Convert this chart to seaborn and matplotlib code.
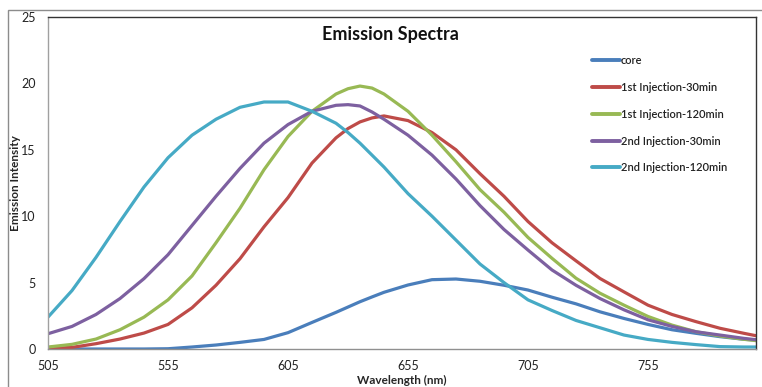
import numpy as np
import pandas as pd
import matplotlib
matplotlib.use("Agg")
import matplotlib.pyplot as plt
from matplotlib.patches import Rectangle
import seaborn as sns

# Emission wavelength (nm)
wavelength = [505, 515, 525, 535, 545, 555, 565, 575, 585, 595, 605, 615, 625, 630,
              635, 640, 645, 655, 665, 675, 685, 695, 705, 715, 725, 735, 745, 755,
              765, 775, 785, 795, 800]

core = [0.0, 0.0, 0.0, 0.0, 0.0, 0.02, 0.15, 0.3, 0.5, 0.72, 1.23, 2.0, 2.76, 3.16,
        3.56, 3.92, 4.27, 4.82, 5.22, 5.27, 5.1, 4.8, 4.44, 3.9, 3.4, 2.8, 2.3, 1.85,
        1.45, 1.18, 0.93, 0.73, 0.68]

inj1_30 = [0.05, 0.12, 0.4, 0.75, 1.2, 1.85, 3.1, 4.8, 6.8, 9.2, 11.4, 14.0, 15.9, 16.6,
           17.1, 17.4, 17.55, 17.2, 16.3, 15.0, 13.2, 11.5, 9.6, 8.0, 6.64, 5.31, 4.3, 3.3,
           2.6, 2.06, 1.56, 1.18, 1.0]

inj1_120 = [0.15, 0.35, 0.75, 1.45, 2.4, 3.7, 5.5, 8.0, 10.6, 13.5, 16.0, 17.9, 19.2, 19.6,
            19.8, 19.65, 19.2, 17.9, 16.1, 14.1, 12.0, 10.3, 8.4, 6.83, 5.33, 4.2, 3.3, 2.45,
            1.8, 1.3, 0.98, 0.73, 0.63]

inj2_30 = [1.15, 1.7, 2.6, 3.8, 5.3, 7.1, 9.3, 11.5, 13.6, 15.5, 16.9, 17.9, 18.35, 18.4,
           18.3, 17.85, 17.3, 16.1, 14.6, 12.8, 10.8, 9.0, 7.45, 5.95, 4.8, 3.8, 2.95, 2.2,
           1.7, 1.3, 1.05, 0.8, 0.7]

inj2_120 = [2.4, 4.4, 6.9, 9.6, 12.2, 14.4, 16.1, 17.3, 18.2, 18.6, 18.6, 17.9, 17.0, 16.3,
            15.5, 14.6, 13.7, 11.7, 10.0, 8.2, 6.4, 5.0, 3.7, 2.9, 2.15, 1.6, 1.05, 0.72,
            0.5, 0.33, 0.18, 0.15, 0.15]

series_names = ["core", "1st Injection-30min", "1st Injection-120min",
                "2nd Injection-30min", "2nd Injection-120min"]
series_colors = ["#4A7EBB", "#BE4B48", "#98B954", "#7D60A0", "#46AAC5"]
x_ticks = [505, 555, 605, 655, 705, 755]
y_ticks = [0, 5, 10, 15, 20, 25]

frames = []
for name, vals in zip(series_names, [core, inj1_30, inj1_120, inj2_30, inj2_120]):
    frames.append(pd.DataFrame({"Wavelength": wavelength, "Intensity": vals, "Series": name}))
df = pd.concat(frames, ignore_index=True)

sns.set_style("white")
plt.rcParams["font.family"] = ["Lato", "DejaVu Sans"]

fig = plt.figure(figsize=(7.62, 3.87), dpi=100)
fig.patch.set_facecolor("white")
ax = fig.add_axes([48 / 762, 1 - 349 / 387, 708 / 762, 332 / 387])

# outer chart frame
fig.patches.append(Rectangle((8 / 762, -0.05), 1.0, 1 - 10 / 387 + 0.05,
                             transform=fig.transFigure, fill=False,
                             edgecolor="#8c8c8c", linewidth=1.0, zorder=0))

sns.lineplot(data=df, x="Wavelength", y="Intensity", hue="Series",
             hue_order=series_names, palette=series_colors,
             linewidth=2.3, ax=ax, legend=True)
for line in ax.lines:
    line.set_solid_joinstyle("round")
    line.set_solid_capstyle("round")

ax.set_xlim(505, 800)
ax.set_ylim(0, 25)
ax.set_xticks(x_ticks)
ax.set_yticks(y_ticks)
ax.tick_params(axis="both", length=0, labelsize=9, colors="#222222")
ax.tick_params(axis="y", pad=9)
ax.tick_params(axis="x", pad=8)

for side in ["top", "right"]:
    ax.spines[side].set_color("#333333")
    ax.spines[side].set_linewidth(1.0)
ax.spines["left"].set_color("#a0a0a0")
ax.spines["bottom"].set_color("#909090")
ax.spines["left"].set_linewidth(1.0)
ax.spines["bottom"].set_linewidth(1.0)

ax.set_xlabel("Wavelength (nm)", fontsize=8.5, fontweight="bold")
ax.xaxis.set_label_coords(0.5, -(375 - 349) / 332)
ax.set_ylabel("Emission Intensity", fontsize=8.5, fontweight="bold")
ax.yaxis.set_label_coords(-(48 - 21) / 708, 0.5)

ax.text(0.483, 0.946, "Emission Spectra", transform=ax.transAxes,
        ha="center", va="center", fontsize=13, fontweight="bold", color="#111111")

leg = ax.legend(loc="upper left", bbox_to_anchor=(0.768, 0.885), frameon=False,
                fontsize=8, handlelength=2.5, handletextpad=0.1,
                labelspacing=1.42, borderaxespad=0, borderpad=0)
for t in leg.get_texts():
    t.set_fontweight("semibold")
    t.set_color("#222222")
for h in leg.get_lines():
    h.set_linewidth(2.8)

fig.savefig("out.png", dpi=100, facecolor="white")
